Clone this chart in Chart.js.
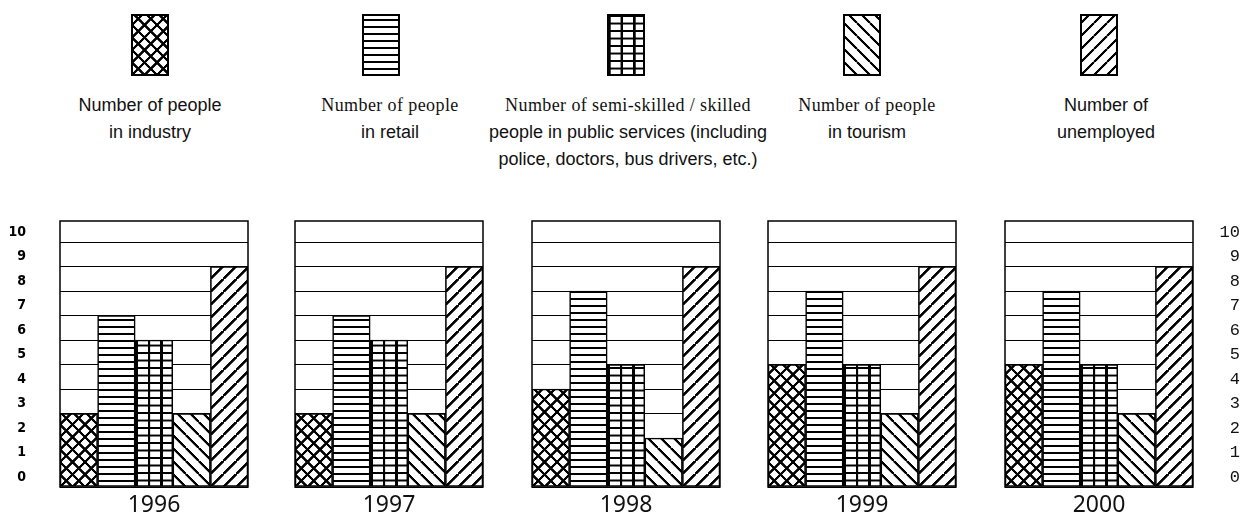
<!DOCTYPE html>
<html>
<head>
<meta charset="utf-8">
<script src="https://cdn.jsdelivr.net/npm/chart.js@4.4.1/dist/chart.umd.min.js"></script>
<style>
  body { margin: 0; background: #fff; }
  #wrap { position: relative; width: 1246px; height: 515px; overflow: hidden; background: #fff; }
  canvas.panel { position: absolute; top: 200px; }
  canvas.icon { position: absolute; top: 14px; }
  .line { position: absolute; white-space: nowrap; transform: translateX(-50%); color: #111; font-size: 18px; line-height: 20px; }
  .serif { font-family: 'Liberation Serif', 'DejaVu Serif', serif; letter-spacing: 0.4px; }
  .sans { font-family: 'Liberation Sans', Arial, sans-serif; }
</style>
</head>
<body>
<div id="wrap"></div>
<script>
const years = ['1996', '1997', '1998', '1999', '2000'];
const categories = [
  'Number of people in industry',
  'Number of people in retail',
  'Number of semi-skilled / skilled people in public services',
  'Number of people in tourism',
  'Number of unemployed'
];
const industry = [3, 3, 4, 5, 5];
const retail = [7, 7, 8, 8, 8];
const publicServices = [6, 6, 5, 5, 5];
const tourism = [3, 3, 2, 3, 3];
const unemployed = [9, 9, 9, 9, 9];
const yTicks = [0, 1, 2, 3, 4, 5, 6, 7, 8, 9, 10];
const yMax = 10.86;

// legend text line by line, with the face each line is set in
const legendLines = [
  [['sans', 'Number of people'], ['sans', 'in industry']],
  [['serif', 'Number of people'], ['sans', 'in retail']],
  [['serif', 'Number of semi-skilled / skilled'], ['sans', 'people in public services (including'], ['sans', 'police, doctors, bus drivers, etc.)']],
  [['serif', 'Number of people'], ['sans', 'in tourism']],
  [['sans', 'Number of'], ['sans', 'unemployed']]
];

const hatches = ['cross', 'hlines', 'grid', 'back', 'fwd'];

// page layout
const panelLeft = [60, 295, 532, 768, 1005];
const panelWidth = 188;
const iconCenter = [150, 381, 626, 862, 1099];
const textCenter = [150, 390, 628, 867, 1106];

// ---- hatch tiles (drawn at 4x, scaled back down by the pattern transform)
const S = 4;
function makeTile(kind) {
  let w = 13, h = 13;
  if (kind === 'hlines') { w = 4; h = 7; }
  if (kind === 'grid') { w = 12.5; h = 7.5; }
  if (kind === 'cross') { w = 12.5; h = 12.5; }
  const t = document.createElement('canvas');
  t.width = Math.round(w * S);
  t.height = Math.round(h * S);
  const g = t.getContext('2d');
  g.scale(S, S);
  g.fillStyle = '#fff';
  g.fillRect(0, 0, w, h);
  g.fillStyle = '#000';
  g.strokeStyle = '#000';
  g.lineWidth = 2.4;
  if (kind === 'hlines') {
    g.fillRect(0, 0, w, 2);
  } else if (kind === 'grid') {
    g.fillRect(0, 0, w, 2);
    g.fillRect(0, 0, 2.6, h);
  } else {
    for (let k = -1; k <= 1; k++) {
      g.beginPath();
      if (kind === 'back' || kind === 'cross') { g.moveTo(k * w, 0); g.lineTo(k * w + w, h); }
      if (kind === 'fwd' || kind === 'cross') { g.moveTo(k * w, h); g.lineTo(k * w + w, 0); }
      g.stroke();
    }
  }
  return t;
}
const tiles = {};
hatches.forEach(k => { tiles[k] = makeTile(k); });

function hatchPattern(ctx, kind, x0, y0) {
  const p = ctx.createPattern(tiles[kind], 'repeat');
  p.setTransform(new DOMMatrix().translate(x0, y0).scale(1 / S));
  return p;
}

const framePlugin = {
  id: 'frame',
  afterDatasetsDraw(chart) {
    const a = chart.chartArea, g = chart.ctx;
    g.save();
    g.strokeStyle = '#000';
    g.lineWidth = 1.5;
    g.strokeRect(a.left, a.top, a.width, a.height);
    g.restore();
  }
};

// keep the tick labels from pushing the plot area around
function fixWidth(w) {
  return s => { s.width = w; s.paddingTop = 0; s.paddingBottom = 0; };
}

const wrap = document.getElementById('wrap');

// ---- legend
legendLines.forEach((lines, i) => {
  const ic = document.createElement('canvas');
  ic.className = 'icon';
  ic.width = 38; ic.height = 62;
  ic.style.left = (iconCenter[i] - 19) + 'px';
  wrap.appendChild(ic);
  const g = ic.getContext('2d');
  g.fillStyle = hatchPattern(g, hatches[i], 1, 61);
  g.fillRect(0, 0, 38, 62);
  g.strokeStyle = '#000';
  g.lineWidth = 2;
  g.strokeRect(1, 1, 36, 60);

  lines.forEach(([face, txt], j) => {
    const d = document.createElement('div');
    d.className = 'line ' + face;
    d.textContent = txt;
    d.style.left = textCenter[i] + 'px';
    d.style.top = (95 + 27 * j) + 'px';
    wrap.appendChild(d);
  });
});

// ---- one small bar chart per year
years.forEach((year, i) => {
  const last = i === years.length - 1;
  const cv = document.createElement('canvas');
  cv.className = 'panel';
  cv.width = last ? 60 + panelWidth + 47 : 60 + panelWidth + 60;
  cv.height = 315;
  cv.style.left = (panelLeft[i] - 60) + 'px';
  wrap.appendChild(cv);

  const scales = {
    x: {
      grid: { display: false },
      border: { display: false },
      ticks: { display: false },
      title: {
        display: true, text: year, color: '#111', padding: 0,
        font: { family: "'Noto Sans', 'DejaVu Sans', sans-serif", size: 23, lineHeight: 0.85 }
      },
      afterFit: s => { s.height = 28; s.paddingLeft = 0; s.paddingRight = 0; }
    },
    y: {
      min: 0, max: yMax,
      afterBuildTicks: s => { s.ticks = yTicks.map(v => ({ value: v })); },
      grid: { color: '#000', lineWidth: 1, drawTicks: false },
      border: { display: false },
      ticks: {
        display: i === 0, padding: 34, labelOffset: -10, color: '#000',
        font: { family: "'DejaVu Sans Condensed', 'DejaVu Sans', sans-serif", size: 14, weight: 'bold' }
      },
      afterFit: fixWidth(60)
    }
  };
  if (last) {
    scales.y2 = {
      position: 'right',
      min: 0, max: yMax,
      afterBuildTicks: s => { s.ticks = yTicks.map(v => ({ value: v })); },
      grid: { display: false, drawTicks: false },
      border: { display: false },
      ticks: {
        padding: 27, labelOffset: -10, crossAlign: 'far', color: '#111',
        font: { family: "'Liberation Mono', 'DejaVu Sans Mono', monospace", size: 17 }
      },
      afterFit: fixWidth(47)
    };
  }

  new Chart(cv, {
    type: 'bar',
    data: {
      labels: categories,
      datasets: [{
        data: [industry[i], retail[i], publicServices[i], tourism[i], unemployed[i]],
        backgroundColor: (c) => {
          const a = c.chart.chartArea;
          if (c.type !== 'data' || !a) return '#fff';
          const bw = a.width / categories.length;
          return hatchPattern(c.chart.ctx, hatches[c.dataIndex], a.left + c.dataIndex * bw, a.bottom);
        },
        borderColor: '#000',
        borderWidth: 1.6,
        borderSkipped: false,
        categoryPercentage: 1,
        barPercentage: 1
      }]
    },
    options: {
      responsive: false,
      animation: false,
      events: [],
      layout: { padding: { top: 21, right: last ? 0 : 60, left: 0, bottom: 0 } },
      plugins: { legend: { display: false }, tooltip: { enabled: false } },
      scales: scales
    },
    plugins: [framePlugin]
  });
});
</script>
</body>
</html>
